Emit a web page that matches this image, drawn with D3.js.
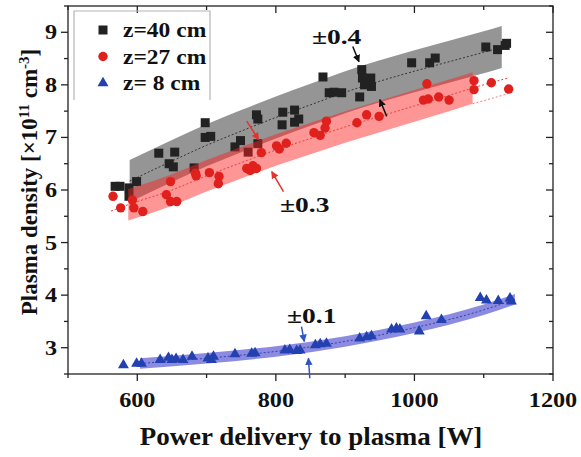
<!DOCTYPE html>
<html>
<head>
<meta charset="utf-8">
<script src="https://cdn.jsdelivr.net/npm/d3@7"></script>
<style>
  html, body { margin: 0; padding: 0; background: #fff; }
  svg text { font-family: "Liberation Serif", "Times New Roman", serif; font-weight: bold; fill: #111; }
</style>
</head>
<body>
<svg id="chart" width="581" height="457"></svg>
<script>
// Axis ticks
const powerMajor = [600, 800, 1000, 1200];
const powerMinor = [500, 700, 900, 1100];
const densityMajor = [3, 4, 5, 6, 7, 8, 9];
const densityMinor = [2.5, 3.5, 4.5, 5.5, 6.5, 7.5, 8.5, 9.5];

// Measured plasma density [1e11 cm^-3] vs delivered power [W]
const z40 = [[568,6.07],[575,6.07],[588,6.04],[588,5.88],[599,6.16],[631,6.70],[654,6.72],[646,6.50],[652,6.44],
  [682,6.42],[698,7.28],[698,7.00],[706,7.02],[741,6.82],[749,6.94],[760,6.72],[774,6.88],[772,7.43],[774,7.35],
  [810,7.48],[827,7.52],[809,7.24],[827,7.29],[833,7.35],[868,8.15],[877,7.85],[884,7.86],[895,7.85],[921,7.77],
  [924,8.29],[925,8.13],[928,8.00],[937,8.13],[938,7.97],[996,8.42],[1022,8.42],[1030,8.51],[1103,8.72],[1120,8.67],
  [1131,8.75],[1133,8.79]];
const z27 = [[565,5.88],[576,5.66],[593,5.81],[595,5.66],[608,5.59],[648,6.16],[642,5.91],[648,5.78],[657,5.78],
  [684,6.32],[685,6.27],[704,6.33],[718,6.26],[717,6.12],[758,6.41],[763,6.37],[767,6.46],[772,6.41],[779,6.71],
  [801,6.84],[805,6.78],[815,6.89],[855,7.09],[864,7.04],[871,7.18],[873,7.31],[917,7.28],[931,7.43],[949,7.40],
  [1018,8.02],[1013,7.71],[1020,7.73],[1035,7.77],[1050,7.71],[1086,8.08],[1086,7.91],[1111,8.04],[1136,7.92]];
const z8 = [[580,2.67],[599,2.70],[606,2.70],[633,2.77],[645,2.81],[650,2.77],[656,2.79],[666,2.77],[679,2.83],
  [702,2.80],[710,2.83],[707,2.77],[741,2.88],[765,2.89],[770,2.90],[813,2.95],[820,2.96],[830,2.94],[835,2.95],
  [857,3.05],[864,3.07],[873,3.08],[921,3.18],[931,3.20],[938,3.22],[967,3.35],[974,3.37],[979,3.35],[1007,3.31],
  [1017,3.60],[1039,3.53],[1095,3.95],[1104,3.90],[1121,3.89],[1138,3.94],[1140,3.88]];

// Fitted trends and their spread
const z40Fit = [[589,6.17],[650,6.55],[700,6.85],[750,7.12],[800,7.38],[850,7.62],[900,7.86],[950,8.07],
  [1000,8.26],[1050,8.44],[1100,8.62],[1126,8.72]];
const z27Fit = [[562,5.60],[587,5.72],[650,6.00],[700,6.27],[750,6.52],[800,6.76],[850,6.98],[900,7.20],
  [950,7.40],[1000,7.60],[1050,7.80],[1084,7.94],[1135,8.13]];
const z8Fit = [[604,2.70],[700,2.80],[800,2.93],[900,3.12],[1000,3.38],[1100,3.72],[1145,3.92]];
const z40Spread = 0.4, z27Spread = 0.3, z8Spread = 0.1;
const z27BandRange = [587, 1084];

// Spread annotations: label position and arrow pairs (power, density)
const notes = [
  { text: "±0.4", at: [852, 8.77], color: "#111",
    arrows: [[911, 8.73, 920, 8.44], [960, 7.40, 950, 7.72]] },
  { text: "±0.3", at: [806, 5.59], color: "#e8302c",
    arrows: [[758, 7.31, 775, 6.96], [811, 5.97, 794, 6.35]] },
  { text: "±0.1", at: [816, 3.47], color: "#2f56c4",
    arrows: [[837, 3.40, 841, 3.12], [849, 2.42, 847, 2.80]] }
];

const legendItems = [
  { label: "z=40 cm", shape: "square", color: "#222" },
  { label: "z=27 cm", shape: "circle", color: "#e0201c" },
  { label: "z= 8 cm", shape: "triangle", color: "#2340b0" }
];

const svg = d3.select("#chart");
const plotL = 68, plotR = 553, plotT = 6, plotB = 374;
const x = d3.scaleLinear().domain([500, 1200]).range([plotL, plotR]);
const y = d3.scaleLinear().domain([2.5, 9.5]).range([plotB, plotT]);

svg.append("rect").attr("width", 581).attr("height", 457).attr("fill", "#fff");

const defs = svg.append("defs");
defs.append("clipPath").attr("id", "plot-clip")
  .append("rect").attr("x", plotL).attr("y", plotT).attr("width", plotR - plotL).attr("height", plotB - plotT);

const line = d3.line().x(d => x(d[0])).y(d => y(d[1])).curve(d3.curveMonotoneX);
const band = (fit, s) => d3.area().x(d => x(d[0])).y0(d => y(d[1] - s)).y1(d => y(d[1] + s))
  .curve(d3.curveMonotoneX)(fit);

// Wide bold serif text: placed with a slight horizontal stretch
function label(parent, px, py, str, size, sx, anchor) {
  return parent.append("text")
    .attr("transform", `translate(${px},${py}) scale(${sx},1)`)
    .attr("text-anchor", anchor || "start").attr("font-size", size).text(str);
}

const plot = svg.append("g").attr("clip-path", "url(#plot-clip)");

// z = 40 cm band, trend, points
plot.append("path").attr("d", band(z40Fit, z40Spread)).attr("fill", "#959595");
plot.append("path").attr("d", line(z40Fit)).attr("fill", "none").attr("stroke", "#333")
  .attr("stroke-width", 1).attr("stroke-dasharray", "2,2");
const sq = 9;
plot.selectAll(".p40").data(z40).join("rect").attr("class", "p40")
  .attr("x", d => x(d[0]) - sq / 2).attr("y", d => y(d[1]) - sq / 2)
  .attr("width", sq).attr("height", sq).attr("fill", "#222");

// z = 27 cm band over the darker band
const z27Band = z27Fit.filter(d => d[0] >= z27BandRange[0] && d[0] <= z27BandRange[1]);
plot.append("path").attr("d", band(z27Band, z27Spread)).attr("fill", "rgba(255,35,35,0.48)");
plot.append("path").attr("d", line(z27Fit)).attr("fill", "none").attr("stroke", "#e8403c")
  .attr("stroke-width", 1).attr("stroke-dasharray", "2,2");
const z27Tail = z27Fit.filter(d => d[0] >= z27BandRange[1]).map(d => [d[0], d[1] - z27Spread]);
plot.append("path").attr("d", line(z27Tail)).attr("fill", "none").attr("stroke", "#f08080")
  .attr("stroke-width", 1).attr("stroke-dasharray", "2,2");
plot.selectAll(".p27").data(z27).join("circle").attr("class", "p27")
  .attr("cx", d => x(d[0])).attr("cy", d => y(d[1])).attr("r", 4.7).attr("fill", "#e0201c");

// z = 8 cm band, trend, points
plot.append("path").attr("d", band(z8Fit, z8Spread)).attr("fill", "#8b8be2");
plot.append("path").attr("d", line(z8Fit)).attr("fill", "none").attr("stroke", "#3c3ca8")
  .attr("stroke-width", 1).attr("stroke-dasharray", "2,2");
const tri = d3.symbol().type(d3.symbolTriangle).size(52);
svg.selectAll(".p8").data(z8).join("path").attr("class", "p8")
  .attr("transform", d => `translate(${x(d[0])},${y(d[1])})`).attr("d", tri).attr("fill", "#2340b0");

// Frame and axes
const axisG = svg.append("g").attr("stroke", "#222").attr("stroke-width", 1.3);
axisG.append("rect").attr("x", plotL).attr("y", plotT).attr("width", plotR - plotL).attr("height", plotB - plotT)
  .attr("fill", "none");

function ticks(values, len, orient) {
  values.forEach(v => {
    let x1, y1, x2, y2;
    if (orient === "bottom") { x1 = x2 = x(v); y1 = plotB; y2 = plotB + len; }
    if (orient === "top") { x1 = x2 = x(v); y1 = plotT; y2 = plotT + len; }
    if (orient === "left") { y1 = y2 = y(v); x1 = plotL; x2 = plotL - len; }
    if (orient === "right") { y1 = y2 = y(v); x1 = plotR; x2 = plotR - len; }
    axisG.append("line").attr("x1", x1).attr("y1", y1).attr("x2", x2).attr("y2", y2);
  });
}
ticks(powerMajor, 7, "bottom"); ticks(powerMinor, 4, "bottom");
ticks(powerMajor, 7, "top"); ticks(powerMinor, 4, "top");
ticks(densityMajor, 7, "left"); ticks(densityMinor, 4, "left");
ticks(densityMajor, 7, "right"); ticks(densityMinor, 4, "right");

powerMajor.forEach(d => label(svg, x(d), 407, d, 22, 1.1, "middle"));
densityMajor.forEach(d => label(svg, 57, y(d) + 7, d, 22, 1.1, "end"));

label(svg, 311, 445, "Power delivery to plasma [W]", 25, 1.08, "middle");

const yt = svg.append("text").attr("transform", "translate(37,182) rotate(-90)")
  .attr("text-anchor", "middle").attr("font-size", 23);
yt.append("tspan").text("Plasma density [×10");
yt.append("tspan").attr("dy", -8).attr("font-size", 15).text("11");
yt.append("tspan").attr("dy", 8).text(" cm");
yt.append("tspan").attr("dy", -8).attr("font-size", 15).text("-3");
yt.append("tspan").attr("dy", 8).text("]");

// Legend
svg.append("path").attr("d", "M74,100V11H210V100").attr("fill", "none")
  .attr("stroke", "#b5b5b5").attr("stroke-width", 1.2);
legendItems.forEach((it, i) => {
  const cy = 30 + i * 26.5;
  const g = svg.append("g").attr("transform", `translate(103,${cy})`);
  if (it.shape === "square") g.append("rect").attr("x", -4.5).attr("y", -4.5).attr("width", 9).attr("height", 9).attr("fill", it.color);
  if (it.shape === "circle") g.append("circle").attr("r", 4.7).attr("fill", it.color);
  if (it.shape === "triangle") g.append("path").attr("d", tri).attr("fill", it.color);
  label(svg, 123, cy + 7, it.label, 21, 1.12);
});

// Spread annotations
notes.forEach((n, i) => {
  const id = "arrow" + i;
  defs.append("marker").attr("id", id).attr("viewBox", "0 0 10 10").attr("refX", 9).attr("refY", 5)
    .attr("markerWidth", 5).attr("markerHeight", 5).attr("orient", "auto")
    .append("path").attr("d", "M0,0L10,5L0,10Z").attr("fill", n.color);
  n.arrows.forEach(a => {
    svg.append("line").attr("x1", x(a[0])).attr("y1", y(a[1])).attr("x2", x(a[2])).attr("y2", y(a[3]))
      .attr("stroke", n.color).attr("stroke-width", 1.5).attr("marker-end", `url(#${id})`);
  });
  label(svg, x(n.at[0]), y(n.at[1]), n.text, 22, 1.25);
});
</script>
</body>
</html>
